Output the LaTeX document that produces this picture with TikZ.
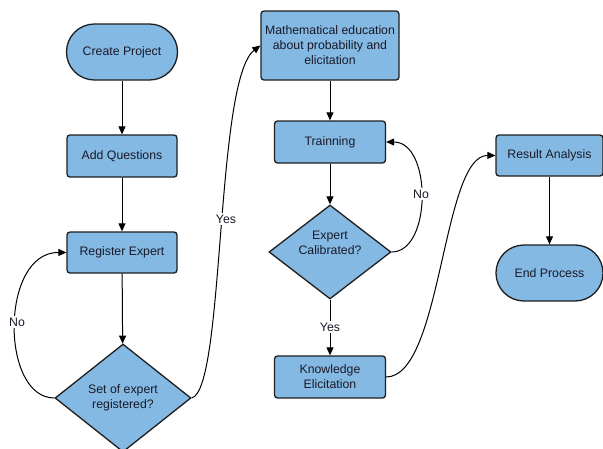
\documentclass[tikz,border=0pt]{standalone}
\usepackage{fontspec}
\setmainfont{Liberation Sans}
\usetikzlibrary{shapes.geometric,arrows.meta}
\definecolor{boxfill}{RGB}{132,185,227}
\definecolor{boxline}{RGB}{30,30,30}
\definecolor{txt}{RGB}{25,25,40}
\begin{document}
\begin{tikzpicture}[x=1pt,y=-1pt,
  font=\fontsize{12.3}{15}\selectfont,
  box/.style={draw=boxline, fill=boxfill, line width=1.3pt, rounded corners=3pt,
    minimum width=111pt, minimum height=42pt, inner sep=0pt, align=center, text=txt},
  term/.style={box, rounded corners=27.9pt, minimum height=56pt},
  dec/.style={diamond, draw=boxline, fill=boxfill, line width=1.3pt, inner sep=0pt,
    align=center, text=txt},
  arr/.style={-{Triangle[length=8pt,width=7pt]}, line width=1pt, draw=black},
  lbl/.style={fill=white, inner sep=1.5pt, text=txt}]
\fill[white] (0,0) rectangle (603,448);
\useasboundingbox (0,0) rectangle (603,448);

\node[term] (create) at (122,52) {Create Project};
\node[box, minimum width=110pt] (addq) at (122,156) {Add Questions};
\node[box, minimum width=110pt, minimum height=41pt] (reg) at (122,252.5) {Register Expert};
\node[dec, minimum width=136pt, minimum height=108pt] (setq) at (123,398) {Set of expert\\registered?};
\node[box, minimum width=138pt, minimum height=69pt] (math) at (330,45.5) {Mathematical education\\about probability and\\elicitation};
\node[box] (train) at (330,142) {Trainning};
\node[dec, minimum width=122pt, minimum height=94pt] (calib) at (330,252) {};
\node[text=txt, align=center, inner sep=0pt] (calibt) at (330,243) {Expert\\Calibrated?};
\node[box] (know) at (330,377) {Knowledge\\Elicitation};
\node[box, minimum width=107pt, minimum height=41pt] (res) at (549.5,155.5) {Result Analysis};
\node[term, minimum width=107pt] (end) at (549.5,273) {End Process};

\draw[arr] (create) -- (addq);
\draw[arr] (addq) -- (reg);
\draw[arr] (reg) -- (setq);
\draw[arr] (setq.west) .. controls (0,398) and (0,252) .. (reg.west);
\node[lbl] (no1) at (17,322) {No};
\draw[arr] (setq.east) .. controls (225,390) and (215,80) .. (math.west);
\node[lbl] (yes1) at (226,219) {Yes};
\draw[arr] (math) -- (train);
\draw[arr] (train) -- (calib);
\draw[arr] (calib.east) .. controls (432,252) and (432,142) .. (train.east);
\node[lbl] (no2) at (421,194) {No};
\draw[arr] (calib.south) -- (know.north);
\node[lbl] (yes2) at (330,327) {Yes};
\draw[arr] (know.east) .. controls (442,377) and (442,155) .. (res.west);
\draw[arr] (res) -- (end);
\end{tikzpicture}
\end{document}
